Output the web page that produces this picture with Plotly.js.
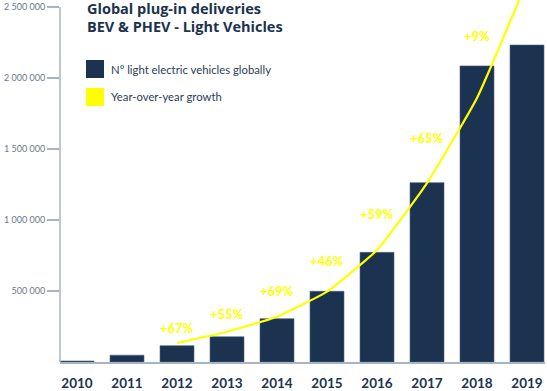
<!DOCTYPE html>
<html>
<head>
<meta charset="utf-8">
<script src="https://cdn.plot.ly/plotly-3.0.1.min.js"></script>
<style>
  html, body { margin: 0; padding: 0; background: #ffffff; }
  #chart { width: 547px; height: 391px; }
</style>
</head>
<body>
<div id="chart"></div>
<script>
// ---- data ----
const years = ['2010', '2011', '2012', '2013', '2014', '2015', '2016', '2017', '2018', '2019'];
const vehicles = [7000, 48000, 115000, 178000, 305000, 498000, 772000, 1263000, 2085000, 2232000];
const trendYears = ['2012', '2013', '2014', '2015', '2016', '2017', '2018', '2019'];
const trendValues = [134000, 213000, 319000, 495000, 789000, 1260000, 1859000, 2680000];
const growthYears = ['2012', '2013', '2014', '2015', '2016', '2017', '2018'];
const growthLabels = ['+67%', '+55%', '+69%', '+46%', '+59%', '+65%', '+9%'];
const yTickVals = [500000, 1000000, 1500000, 2000000, 2500000];

// ---- style / layout helpers ----
const NAVY = '#1b3350';
const YELLOW = '#ffff00';
const AXIS = '#a9b4c2';
const labelShiftPx = [15, 18, 26, 31, 36, 45, 62];

const W = 547, H = 391;
const M = {l: 60, r: 2, t: 0, b: 29};
const plotW = W - M.l - M.r, plotH = H - M.t - M.b;
const px2paperX = px => (px - M.l) / plotW;
const px2paperY = py => 1 - (py - M.t) / plotH;

const yTop = 2549000;

const traces = [
  {
    type: 'bar',
    x: years,
    y: vehicles,
    marker: {color: NAVY, line: {color: '#4e6580', width: 0.6}},
    hoverinfo: 'skip',
    showlegend: false
  },
  {
    type: 'scatter',
    mode: 'lines',
    x: trendYears,
    y: trendValues,
    line: {color: YELLOW, width: 2.2, shape: 'spline', smoothing: 0.4},
    hoverinfo: 'skip',
    showlegend: false
  }
];

const annotations = [];
growthLabels.forEach((t, i) => {
  const idx = trendYears.indexOf(growthYears[i]);
  annotations.push({
    x: years.indexOf(growthYears[i]), y: trendValues[idx], xref: 'x', yref: 'y',
    text: '<b>' + t + '</b>', showarrow: false,
    yshift: labelShiftPx[i], yanchor: 'middle', xanchor: 'center',
    font: {family: 'Lato, sans-serif', size: 13, color: YELLOW}
  });
});

const titleFont = {family: '"Open Sans", sans-serif', size: 14.5, color: NAVY};
// title
annotations.push({
  xref: 'paper', yref: 'paper', x: px2paperX(85), y: px2paperY(9),
  xanchor: 'left', yanchor: 'middle', showarrow: false,
  text: '<b>Global plug-in deliveries</b>',
  font: titleFont
});
annotations.push({
  xref: 'paper', yref: 'paper', x: px2paperX(85), y: px2paperY(26.5),
  xanchor: 'left', yanchor: 'middle', showarrow: false,
  text: '<b>BEV & PHEV - Light Vehicles</b>',
  font: titleFont
});
// legend texts
annotations.push({
  xref: 'paper', yref: 'paper', x: px2paperX(109), y: px2paperY(69),
  xanchor: 'left', yanchor: 'middle', showarrow: false,
  text: 'N° light electric vehicles globally',
  font: {family: 'Lato, sans-serif', size: 11.3, color: '#2b3d55'}
});
annotations.push({
  xref: 'paper', yref: 'paper', x: px2paperX(109), y: px2paperY(97),
  xanchor: 'left', yanchor: 'middle', showarrow: false,
  text: 'Year-over-year growth',
  font: {family: 'Lato, sans-serif', size: 11.3, color: '#2b3d55'}
});

const shapes = [
  // y axis line (stops at top tick)
  {type: 'line', xref: 'paper', yref: 'y', x0: 0, x1: 0, y0: 0, y1: yTickVals[yTickVals.length - 1],
   line: {color: AXIS, width: 1.5}, layer: 'above'},
  // legend swatches
  {type: 'rect', xref: 'paper', yref: 'paper',
   x0: px2paperX(86), x1: px2paperX(104), y0: px2paperY(78), y1: px2paperY(60),
   fillcolor: NAVY, line: {width: 0}},
  {type: 'rect', xref: 'paper', yref: 'paper',
   x0: px2paperX(86), x1: px2paperX(104), y0: px2paperY(106), y1: px2paperY(88),
   fillcolor: YELLOW, line: {width: 0}}
];

const layout = {
  width: W, height: H,
  margin: M,
  paper_bgcolor: '#ffffff',
  plot_bgcolor: '#ffffff',
  separators: ', ',
  bargap: 0.32,
  xaxis: {
    type: 'category',
    range: [-0.34, 9.36],
    showgrid: false, zeroline: false,
    showline: true, linecolor: AXIS, linewidth: 1.5,
    ticks: '',
    ticklabelstandoff: 8,
    tickfont: {family: 'Lato, sans-serif', size: 13.5, color: NAVY, weight: 'bold'},
    fixedrange: true
  },
  yaxis: {
    range: [0, yTop],
    showgrid: false, zeroline: false, showline: false,
    tickvals: yTickVals,
    tickformat: ',d',
    ticks: 'outside', ticklen: 12, tickwidth: 1.2, tickcolor: AXIS,
    tickfont: {family: 'Lato, sans-serif', size: 9, color: '#6a788c'},
    fixedrange: true
  },
  shapes: shapes,
  annotations: annotations,
  showlegend: false
};

Plotly.newPlot('chart', traces, layout, {displayModeBar: false, staticPlot: true});
</script>
</body>
</html>
